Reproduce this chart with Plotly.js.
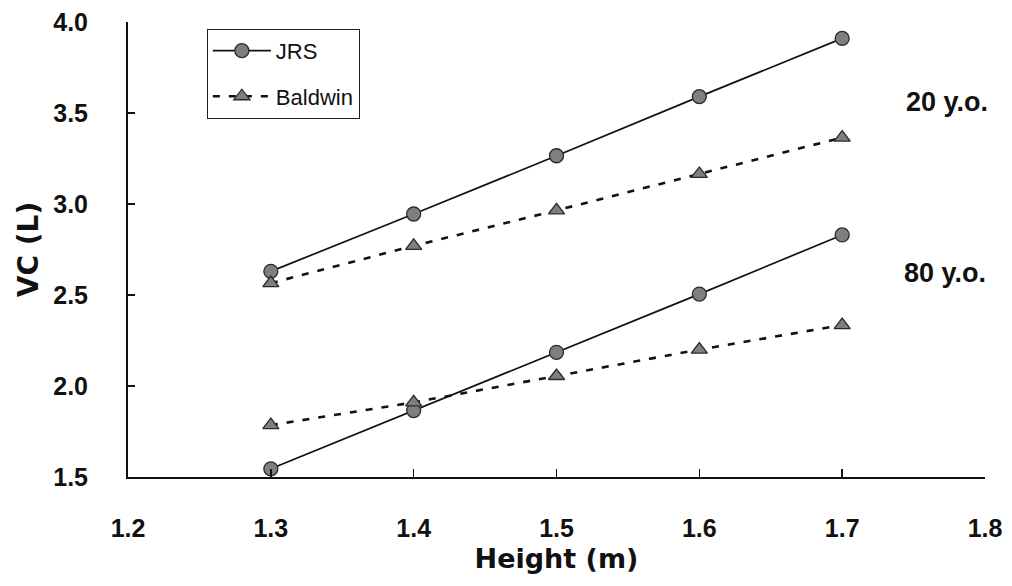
<!DOCTYPE html>
<html><head><meta charset="utf-8">
<script src="https://cdn.plot.ly/plotly-3.0.1.min.js"></script>
<style>html,body{margin:0;padding:0;background:#fff}#chart{width:1012px;height:586px}</style>
</head><body><div id="chart"></div>
<script>
const heights = [1.3, 1.4, 1.5, 1.6, 1.7];
const jrs20 = [2.63, 2.945, 3.265, 3.59, 3.91];
const baldwin20 = [2.565, 2.77, 2.965, 3.165, 3.365];
const jrs80 = [1.545, 1.865, 2.185, 2.505, 2.83];
const baldwin80 = [1.785, 1.91, 2.055, 2.2, 2.335];
const seriesNames = ["JRS", "Baldwin"];
const ageLabels = ["20 y.o.", "80 y.o."];
const ageLabelY = [3.56, 2.62];
const xTicks = [1.2, 1.3, 1.4, 1.5, 1.6, 1.7, 1.8];
const xTickText = ['1.2', '1.3', '1.4', '1.5', '1.6', '1.7', '1.8'];
const yTicks = [1.5, 2.0, 2.5, 3.0, 3.5, 4.0];
const yTickText = ['1.5', '2.0', '2.5', '3.0', '3.5', '4.0'];

const circ = {symbol:'circle', size:14, color:'#7f7f7f', line:{color:'#2a2a2a', width:1.3}};
const tri = {symbol:'triangle-up', size:14, color:'#7f7f7f', line:{color:'#2a2a2a', width:1.3}};
const solid = {color:'#111', width:1.7, dash:'solid'};
const dashed = {color:'#111', width:2.6, dash:'7px,9px'};

const traces = [
  {x:heights, y:jrs20, name:seriesNames[0], mode:'lines+markers', line:solid, marker:circ, legendgroup:'j'},
  {x:heights, y:baldwin20, name:seriesNames[1], mode:'lines+markers', line:dashed, marker:tri, legendgroup:'b'},
  {x:heights, y:jrs80, name:seriesNames[0], mode:'lines+markers', line:solid, marker:circ, legendgroup:'j', showlegend:false},
  {x:heights, y:baldwin80, name:seriesNames[1], mode:'lines+markers', line:dashed, marker:tri, legendgroup:'b', showlegend:false}
];

const fam = 'Liberation Sans, Arial, sans-serif';
const titleFam = 'DejaVu Sans, Verdana, sans-serif';
const layout = {
  width:1012, height:586,
  margin:{l:128, r:27, t:22, b:109},
  paper_bgcolor:'#fff', plot_bgcolor:'#fff',
  showlegend:true,
  font:{family:fam, color:'#111'},
  xaxis:{range:[1.2,1.8], tickvals:xTicks, ticktext:xTickText,
    showgrid:false, zeroline:false, showline:true, linecolor:'#111', linewidth:2,
    ticks:'inside', ticklen:8, tickwidth:1.5, tickcolor:'#111', ticklabelstandoff:28,
    tickfont:{family:fam, size:25, color:'#111', weight:'bold'},
    title:{text:'<b>Height (m)</b>', font:{family:titleFam, size:27, color:'#111'}, standoff:8}},
  yaxis:{range:[1.5,4.0], tickvals:yTicks, ticktext:yTickText,
    showgrid:false, zeroline:false, showline:true, linecolor:'#111', linewidth:2,
    ticks:'inside', ticklen:7, tickwidth:1.5, tickcolor:'#111', ticklabelstandoff:33,
    tickfont:{family:fam, size:25, color:'#111', weight:'bold'},
    title:{text:'<b>VC (L)</b>', font:{family:titleFam, size:28, color:'#111'}, standoff:6}},
  legend:{x:0.092, y:0.985, xanchor:'left', yanchor:'top', bgcolor:'#fff', bordercolor:'#222', borderwidth:1,
    font:{family:fam, size:22, color:'#111'}, tracegroupgap:14, itemwidth:58, entrywidth:199, entrywidthmode:'pixels'},
  annotations:[
    {x:1.006, y:ageLabelY[0], xref:'paper', yref:'y', text:'<b>'+ageLabels[0]+'</b>', showarrow:false, xanchor:'right', font:{family:fam, size:27, color:'#111'}},
    {x:1.003, y:ageLabelY[1], xref:'paper', yref:'y', text:'<b>'+ageLabels[1]+'</b>', showarrow:false, xanchor:'right', font:{family:fam, size:27, color:'#111'}}
  ]
};
Plotly.newPlot('chart', traces, layout, {displayModeBar:false, staticPlot:true});
</script></body></html>
